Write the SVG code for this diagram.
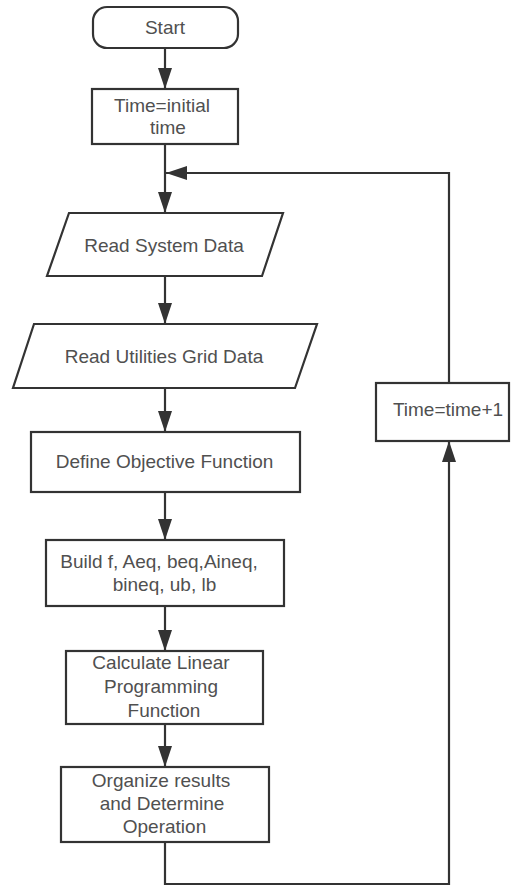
<svg xmlns="http://www.w3.org/2000/svg" width="512" height="887" viewBox="0 0 512 887">
<defs>
<marker id="arr" markerUnits="userSpaceOnUse" markerWidth="21" markerHeight="14" refX="21" refY="7" orient="auto">
<path d="M0,0 L21,7 L0,14 Z" fill="#333"/>
</marker>
<style>
.shape{fill:#fff;stroke:#333;stroke-width:2.2}
.conn{fill:none;stroke:#333;stroke-width:2.2}
text{font-family:"Liberation Sans",Arial,sans-serif;font-size:19px;fill:#505050;text-anchor:middle}
</style>
</defs>
<rect width="512" height="887" fill="#fff"/>
<g id="connectors">
<path class="conn" d="M165,48 V89" marker-end="url(#arr)"/>
<path class="conn" d="M165,144 V213" marker-end="url(#arr)"/>
<path class="conn" d="M165,276 V324" marker-end="url(#arr)"/>
<path class="conn" d="M165,388 V432" marker-end="url(#arr)"/>
<path class="conn" d="M165,492 V540" marker-end="url(#arr)"/>
<path class="conn" d="M165,606 V651" marker-end="url(#arr)"/>
<path class="conn" d="M165,724 V767" marker-end="url(#arr)"/>
<path class="conn" d="M165,842 V884 H449 V441" marker-end="url(#arr)"/>
<path class="conn" d="M449,383 V173 H166" marker-end="url(#arr)"/>
</g>
<g id="start">
<rect class="shape" x="93" y="7" width="145" height="41" rx="14"/>
<text x="165" y="34">Start</text>
</g>
<g id="init">
<rect class="shape" x="92" y="89" width="146" height="55"/>
<text x="162" y="112">Time=initial</text>
<text x="168" y="134">time</text>
</g>
<g id="readSystem">
<polygon class="shape" points="69,213 283,213 262,276 47,276"/>
<text x="164" y="252">Read System Data</text>
</g>
<g id="readGrid">
<polygon class="shape" points="34,324 317,324 295,388 13,388"/>
<text x="164" y="363">Read Utilities Grid Data</text>
</g>
<g id="define">
<rect class="shape" x="31" y="432" width="269" height="60"/>
<text x="164.5" y="468">Define Objective Function</text>
</g>
<g id="build">
<rect class="shape" x="46" y="540" width="238" height="66"/>
<text x="159" y="568">Build f, Aeq, beq,Aineq,</text>
<text x="164.5" y="591">bineq, ub, lb</text>
</g>
<g id="calc">
<rect class="shape" x="66" y="651" width="197" height="73"/>
<text x="161" y="669">Calculate Linear</text>
<text x="161" y="693">Programming</text>
<text x="164" y="717">Function</text>
</g>
<g id="organize">
<rect class="shape" x="61" y="767" width="208" height="75"/>
<text x="161" y="787">Organize results</text>
<text x="162" y="810">and Determine</text>
<text x="164.5" y="833">Operation</text>
</g>
<g id="increment">
<rect class="shape" x="376" y="383" width="133" height="58"/>
<text x="448" y="416">Time=time+1</text>
</g>
</svg>
